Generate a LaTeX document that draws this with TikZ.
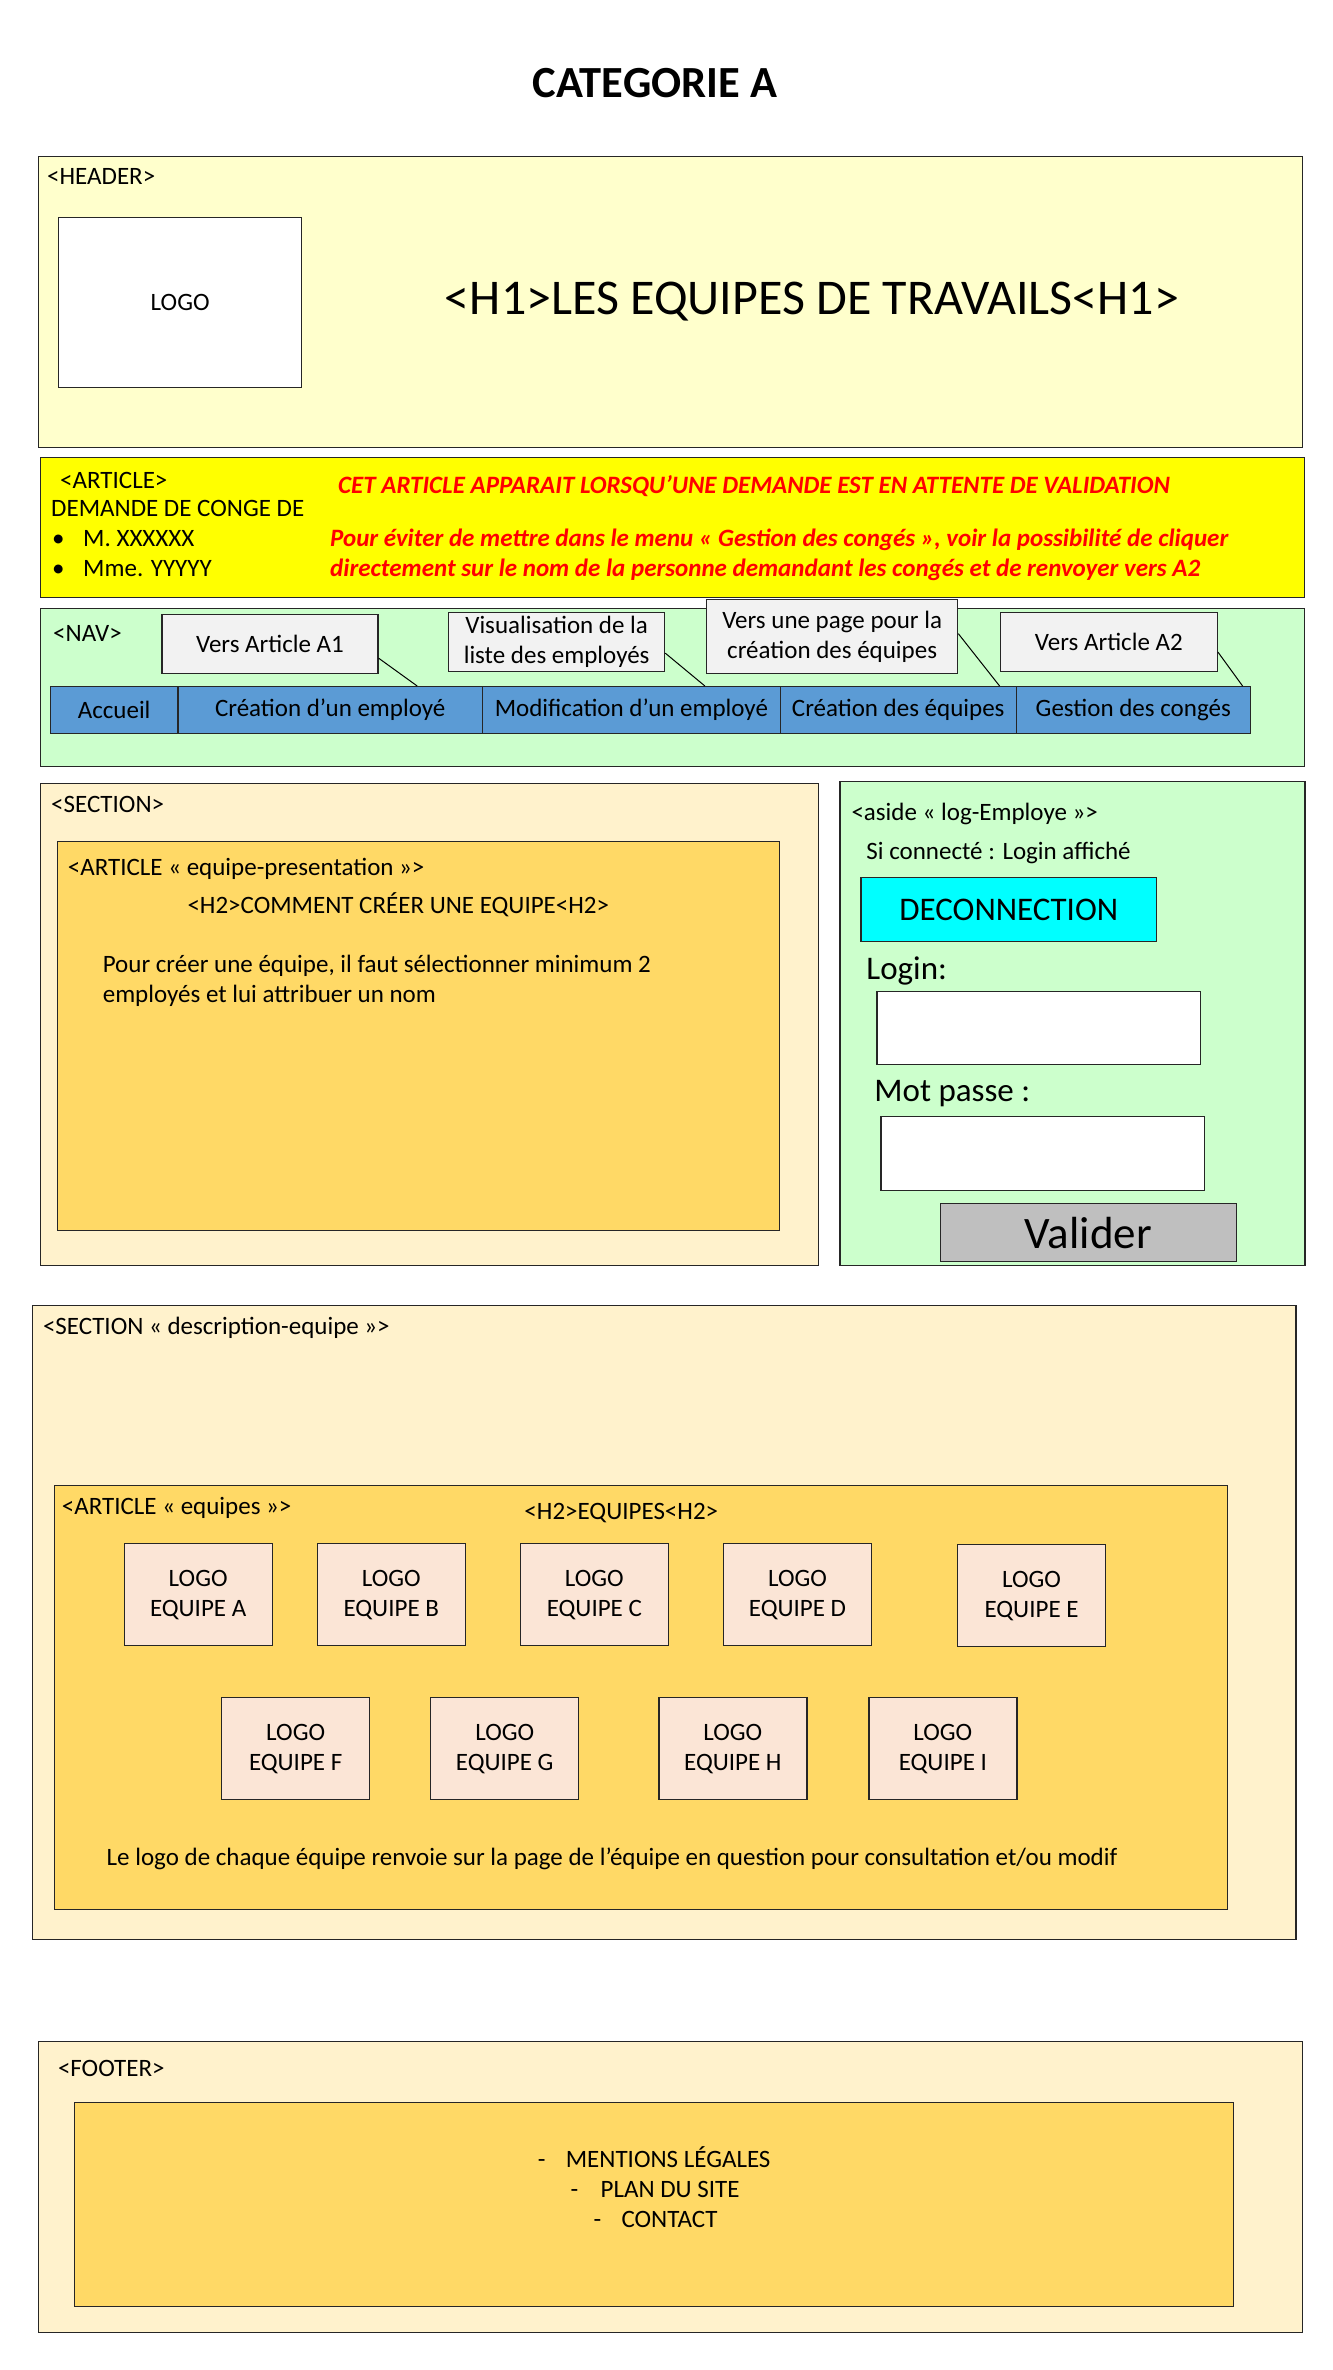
\documentclass[tikz,border=0pt]{standalone}
\usepackage{fontspec}
\setmainfont{Carlito}
\definecolor{headerfill}{HTML}{FFFFCC}
\definecolor{articlefill}{HTML}{FFFF00}
\definecolor{navfill}{HTML}{CCFFCC}
\definecolor{navblue}{HTML}{5B9BD5}
\definecolor{notegray}{HTML}{F2F2F2}
\definecolor{sectionfill}{HTML}{FFF2CC}
\definecolor{innerfill}{HTML}{FFD966}
\definecolor{decofill}{HTML}{00FFFF}
\definecolor{validfill}{HTML}{BFBFBF}
\definecolor{logofill}{HTML}{FBE5D6}
\definecolor{alertred}{HTML}{FF0000}

\begin{document}
\begin{tikzpicture}[x = 1pt, y = -1pt]
\tikzstyle{BoxStyle}=[draw = black!85,
                      line width = 1.3pt,
                      anchor = north west,
                      inner sep = 0pt]
\tikzstyle{TextStyle}=[inner sep = 0pt,
                       anchor = base west,
                       font = \fontsize{25}{30}\selectfont]
\tikzstyle{NavStyle}=[BoxStyle, fill = navblue, minimum height = 47pt,
                      font = \fontsize{25}{30}\selectfont]
\tikzstyle{NoteStyle}=[BoxStyle, fill = notegray, align = center,
                       font = \fontsize{25}{30}\selectfont]
\tikzstyle{LogoStyle}=[BoxStyle, fill = logofill, align = center,
                       minimum width = 148pt, minimum height = 102pt,
                       font = \fontsize{25}{30}\selectfont]
\tikzstyle{AlertStyle}=[TextStyle, text = alertred,
                        font = \fontsize{25}{30}\selectfont\bfseries\itshape]
\useasboundingbox (0,0) rectangle (1333,2370);
\node[font = \fontsize{44.5}{52}\selectfont\bfseries] (title) at (655,83) {CATEGORIE A};
% header
\node[BoxStyle, fill = headerfill, minimum width = 1264pt, minimum height = 291pt] (header) at (38,156) {};
\node[TextStyle] (headerlbl) at (47,184) {<HEADER>};
\node[BoxStyle, fill = white, minimum width = 243pt, minimum height = 170pt,
      font = \fontsize{25}{30}\selectfont] (logo) at (58,217) {LOGO};
\node[font = \fontsize{50}{58}\selectfont] (h1) at (812,302) {<H1>LES EQUIPES DE TRAVAILS<H1>};
% article
\node[BoxStyle, fill = articlefill, minimum width = 1264pt, minimum height = 140pt] (article) at (40,457) {};
\node[TextStyle] (articlelbl) at (60,488) {<ARTICLE>};
\node[TextStyle] (demande) at (51,516) {DEMANDE DE CONGE DE};
\node[TextStyle] (bul1) at (52,546) {•};
\node[TextStyle] (bul2) at (52,576) {•};
\node[TextStyle] (nom1) at (83,546) {M. XXXXXX};
\node[TextStyle] (nom2) at (83,576) {Mme. YYYYY};
\node[AlertStyle] (alert1) at (338,493)
     {CET ARTICLE APPARAIT LORSQU’UNE DEMANDE EST EN ATTENTE DE VALIDATION};
\node[AlertStyle] (alert2) at (330,546)
     {Pour éviter de mettre dans le menu « Gestion des congés », voir la possibilité de cliquer};
\node[AlertStyle] (alert3) at (330,576)
     {directement sur le nom de la personne demandant les congés et de renvoyer vers A2};
% nav
\node[BoxStyle, fill = navfill, minimum width = 1264pt, minimum height = 158pt] (nav) at (40,608) {};
\node[TextStyle] (navlbl) at (53,641) {<NAV>};
\node[NavStyle, minimum width = 127.4pt] (accueil) at (49.8,686) {Accueil};
\node[NavStyle, minimum width = 304.7pt] (crea) at (177.2,686) {Création d’un employé};
\node[NavStyle, minimum width = 297.7pt] (modif) at (481.9,686) {Modification d’un employé};
\node[NavStyle, minimum width = 236pt] (creq) at (779.6,686) {Création des équipes};
\node[NavStyle, minimum width = 234pt] (gest) at (1015.6,686) {Gestion des congés};
\node[NoteStyle, minimum width = 216pt, minimum height = 59pt] (versA1) at (161.3,614) {Vers Article A1};
\node[NoteStyle, minimum width = 216pt, minimum height = 59pt] (visu) at (448,612) {Visualisation de la\\liste des employés};
\node[NoteStyle, minimum width = 251pt, minimum height = 74pt] (verspage) at (706,599) {Vers une page pour la\\création des équipes};
\node[NoteStyle, minimum width = 217pt, minimum height = 59pt] (versA2) at (999.7,612) {Vers Article A2};
\draw[line width = 1pt] ([yshift = -14pt]versA1.east) -- ([xshift = 240pt]crea.north west);
\draw[line width = 1pt] ([yshift = -11pt]visu.east) -- ([xshift = 223pt]modif.north west);
\draw[line width = 1pt] ([yshift = 3pt]verspage.east) -- ([xshift = 220pt]creq.north west);
\draw[line width = 1pt] ([yshift = -10pt]versA2.east) -- ([xshift = 227pt]gest.north west);
% section
\node[BoxStyle, fill = sectionfill, minimum width = 777.5pt, minimum height = 482pt] (section) at (40,783) {};
\node[TextStyle] (sectionlbl) at (51,812) {<SECTION>};
\node[BoxStyle, fill = innerfill, minimum width = 722pt, minimum height = 389pt] (artpres) at (56.8,841) {};
\node[TextStyle] (artpreslbl) at (67.7,875) {<ARTICLE « equipe-presentation »>};
\node[TextStyle, anchor = base] (h2pres) at (398.3,913) {<H2>COMMENT CRÉER UNE EQUIPE<H2>};
\node[TextStyle] (pres1) at (102.6,972) {Pour créer une équipe, il faut sélectionner minimum 2};
\node[TextStyle] (pres2) at (102.6,1002) {employés et lui attribuer un nom};
% aside
\node[BoxStyle, fill = navfill, minimum width = 465pt, minimum height = 484pt] (aside) at (839.3,781) {};
\node[TextStyle] (asidelbl) at (851.3,820) {<aside « log-Employe »>};
\node[TextStyle] (connecte) at (866.2,859) {Si connecté : Login affiché};
\node[BoxStyle, fill = decofill, minimum width = 295.7pt, minimum height = 64pt,
      font = \fontsize{33}{40}\selectfont] (deco) at (860.3,877) {DECONNECTION};
\node[TextStyle, font = \fontsize{33}{40}\selectfont] (loginlbl) at (866.2,979) {Login:};
\node[BoxStyle, fill = white, minimum width = 323.6pt, minimum height = 73pt] (loginbox) at (876.2,991) {};
\node[TextStyle, font = \fontsize{33}{40}\selectfont] (passlbl) at (874.2,1101) {Mot passe :};
\node[BoxStyle, fill = white, minimum width = 323.6pt, minimum height = 74pt] (passbox) at (880.2,1116) {};
\node[BoxStyle, fill = validfill, minimum width = 295.7pt, minimum height = 58pt,
      font = \fontsize{45}{52}\selectfont] (valider) at (939.9,1203) {Valider};
% section description-equipe
\node[BoxStyle, fill = sectionfill, minimum width = 1263.5pt, minimum height = 634pt] (desc) at (31.9,1305) {};
\node[TextStyle] (desclbl) at (42.8,1334) {<SECTION « description-equipe »>};
\node[BoxStyle, fill = innerfill, minimum width = 1173pt, minimum height = 424pt] (equipes) at (53.8,1485) {};
\node[TextStyle] (equipeslbl) at (61.7,1514) {<ARTICLE « equipes »>};
\node[TextStyle, anchor = base] (h2equipes) at (621.3,1519) {<H2>EQUIPES<H2>};
\node[LogoStyle] (logoA) at (123.5,1543) {LOGO\\EQUIPE A};
\node[LogoStyle] (logoB) at (316.6,1543) {LOGO\\EQUIPE B};
\node[LogoStyle] (logoC) at (519.7,1543) {LOGO\\EQUIPE C};
\node[LogoStyle] (logoD) at (722.9,1543) {LOGO\\EQUIPE D};
\node[LogoStyle] (logoE) at (956.9,1544) {LOGO\\EQUIPE E};
\node[LogoStyle] (logoF) at (221,1697) {LOGO\\EQUIPE F};
\node[LogoStyle] (logoG) at (430.1,1697) {LOGO\\EQUIPE G};
\node[LogoStyle] (logoH) at (658.2,1697) {LOGO\\EQUIPE H};
\node[LogoStyle] (logoI) at (868.2,1697) {LOGO\\EQUIPE I};
\node[TextStyle] (legende) at (106.5,1865) {Le logo de chaque équipe renvoie sur la page de l’équipe en question pour consultation et/ou modif};
% footer
\node[BoxStyle, fill = sectionfill, minimum width = 1264pt, minimum height = 291pt] (footer) at (38,2041) {};
\node[TextStyle] (footerlbl) at (57.8,2076) {<FOOTER>};
\node[BoxStyle, fill = innerfill, minimum width = 1159pt, minimum height = 204pt] (liens) at (73.7,2102) {};
\node[TextStyle] (dash1) at (537.7,2167) {-};
\node[TextStyle] (dash2) at (570.5,2197) {-};
\node[TextStyle] (dash3) at (593.4,2227) {-};
\node[TextStyle] (mentions) at (565.6,2167) {MENTIONS LÉGALES};
\node[TextStyle] (plan) at (600.4,2197) {PLAN DU SITE};
\node[TextStyle] (contact) at (621.3,2227) {CONTACT};
\end{tikzpicture}
\end{document}
